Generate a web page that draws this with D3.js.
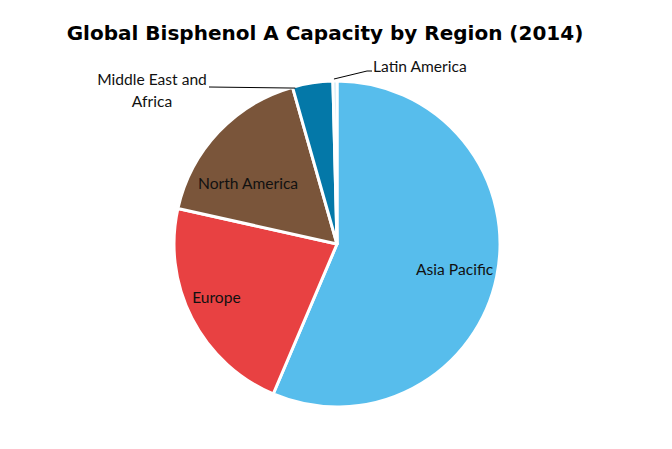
<!DOCTYPE html>
<html><head><meta charset="utf-8">
<script src="https://cdn.jsdelivr.net/npm/d3@7"></script>
<style>body{margin:0;background:#fff}</style>
</head><body>
<svg id="c" width="672" height="449"></svg>
<script>
const categories = ["Asia Pacific", "Europe", "North America", "Middle East and Africa", "Latin America"];
const values = [56.4, 22.1, 17.1, 4.0, 0.4];
const colors = ["#57BDEC", "#E84142", "#7A553A", "#0478A8", "#BFE3F5"];
const title = "Global Bisphenol A Capacity by Region (2014)";

const svg = d3.select("#c");
svg.append("rect").attr("width",672).attr("height",449).attr("fill","#fff");
svg.append("text").attr("x",325).attr("y",40).attr("text-anchor","middle")
  .attr("font-family","DejaVu Sans").attr("font-weight","bold").attr("font-size",20)
  .attr("fill","#000").text(title);

const cx = 337, cy = 244, R = 163;
const g = svg.append("g").attr("transform",`translate(${cx},${cy})`);
const pie = d3.pie().sort(null).value(d=>d.v);
const data = pie(categories.map((c,i)=>({c, v: values[i], col: colors[i]})));
const arc = d3.arc().innerRadius(0).outerRadius(R);
g.selectAll("path").data(data).join("path")
  .attr("d", arc).attr("fill", d=>d.data.col)
  .attr("stroke","#fff").attr("stroke-width",3).attr("stroke-linejoin","round");

const font = "Lato";
const fs = 15.6;
function pt(a, r){ return [r*Math.sin(a), -r*Math.cos(a)]; }
const inside = {"Asia Pacific":{r:0.74, da:0.02}, "Europe":{r:0.81, da:0.055}, "North America":{r:0.66, da:-0.16}};
data.forEach(d=>{
  const o = inside[d.data.c]; if(!o) return;
  const a = (d.startAngle+d.endAngle)/2 + o.da;
  const [x,y] = pt(a, R*o.r);
  g.append("text").attr("x",x).attr("y",y+5).attr("text-anchor","middle")
    .attr("font-family",font).attr("font-size",fs).attr("fill","#111").text(d.data.c);
});
const mea = data[3], lat = data[4];
{
  const a = (mea.startAngle+mea.endAngle)/2 - 0.11;
  const [x0,y0] = pt(a, R*0.99);
  g.append("path").attr("d",`M${x0},${y0}L${-128},${-157}`).attr("stroke","#000").attr("stroke-width",1).attr("fill","none");
  const t = g.append("text").attr("text-anchor","middle").attr("font-family",font).attr("font-size",fs).attr("fill","#111");
  t.append("tspan").attr("x",-185).attr("y",-159).text("Middle East and");
  t.append("tspan").attr("x",-185).attr("y",-137).text("Africa");
}
{
  const a = (lat.startAngle+lat.endAngle)/2;
  const [x0,y0] = pt(a, R*1.0);
  g.append("path").attr("d",`M${x0-1},${y0-2}L${30},${-173}L${35},${-173}`).attr("stroke","#000").attr("stroke-width",1).attr("fill","none");
  g.append("text").attr("x",36).attr("y",-172).attr("font-family",font).attr("font-size",fs).attr("fill","#111").text("Latin America");
}
</script>
</body></html>
